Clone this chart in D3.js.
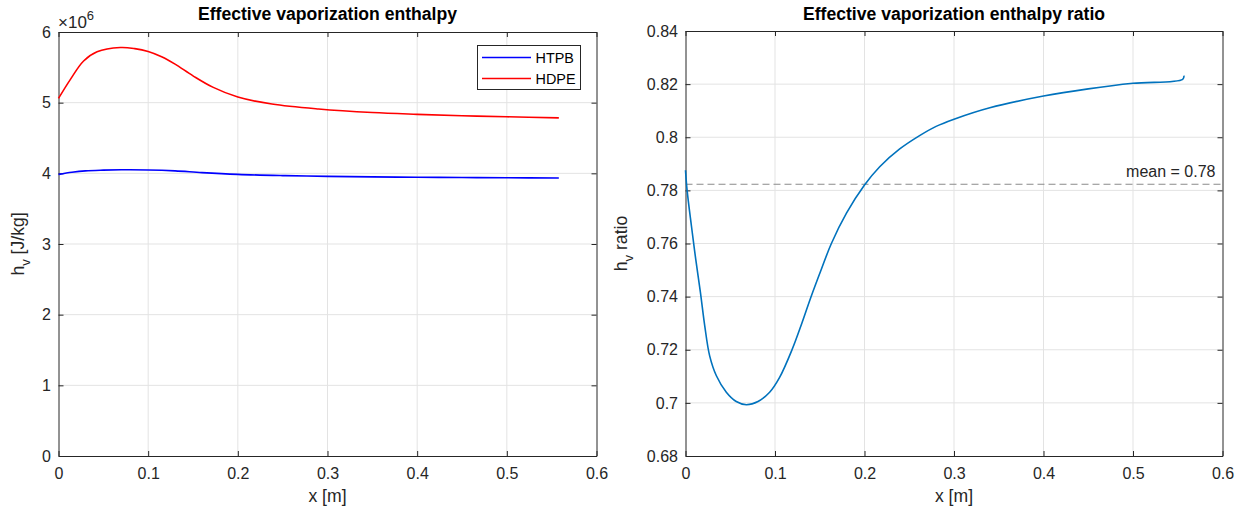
<!DOCTYPE html>
<html>
<head>
<meta charset="utf-8">
<script src="https://cdn.jsdelivr.net/npm/d3@7"></script>
<style>
  body { margin: 0; background: #fff; }
  svg { display: block; font-family: "Liberation Sans", Arial, Helvetica, sans-serif; }
</style>
</head>
<body>
<svg id="chart" width="1244" height="513"></svg>
<script>
// ---------- data ----------
const xTicks = [0, 0.1, 0.2, 0.3, 0.4, 0.5, 0.6];
const xTickLabels = ["0", "0.1", "0.2", "0.3", "0.4", "0.5", "0.6"];
const leftYTicks = [0, 1, 2, 3, 4, 5, 6];
const rightYTicks = [0.68, 0.7, 0.72, 0.74, 0.76, 0.78, 0.8, 0.82, 0.84];
const rightYTickLabels = ["0.68", "0.7", "0.72", "0.74", "0.76", "0.78", "0.8", "0.82", "0.84"];

// left plot (values in units of 1e6 J/kg)
const htpbX = [0, 0.015, 0.03, 0.05, 0.07, 0.1, 0.13, 0.16, 0.2, 0.25, 0.3, 0.35, 0.4, 0.45, 0.5, 0.558];
const htpbY = [3.985, 4.015, 4.035, 4.045, 4.05, 4.048, 4.035, 4.01, 3.985, 3.968, 3.957, 3.95, 3.945, 3.941, 3.937, 3.933];
const hdpeX = [0, 0.0133, 0.028, 0.043, 0.069, 0.085, 0.1, 0.115, 0.13, 0.15, 0.172, 0.2, 0.238, 0.29, 0.35, 0.4, 0.45, 0.5, 0.558];
const hdpeY = [5.06, 5.33, 5.59, 5.72, 5.78, 5.765, 5.725, 5.65, 5.545, 5.38, 5.22, 5.08, 4.98, 4.91, 4.86, 4.835, 4.815, 4.80, 4.785];

// right plot ratio
const ratioX = [0, 0.0018, 0.0067, 0.0115, 0.0167, 0.0215, 0.027, 0.0345, 0.0456, 0.0567, 0.068, 0.081, 0.094, 0.105, 0.119, 0.13, 0.14, 0.152, 0.163, 0.18, 0.2, 0.217, 0.239, 0.262, 0.28, 0.3, 0.34, 0.4, 0.45, 0.5, 0.5555, 0.557];
const ratioY = [0.7876, 0.780, 0.7664, 0.7539, 0.7415, 0.729, 0.7177, 0.7102, 0.704, 0.7005, 0.6993, 0.7005, 0.704, 0.7095, 0.72, 0.73, 0.7397, 0.7505, 0.76, 0.7715, 0.782, 0.7889, 0.7955, 0.8007, 0.8041, 0.8068, 0.8111, 0.8155, 0.8182, 0.8203, 0.8218, 0.8232];
const ratioMean = 0.7823;
const meanLabel = "mean = 0.78";

// ---------- layout ----------
const svg = d3.select("#chart");
const axisColor = "#262626";
const gridColor = "#e3e3e3";
const tickLen = 5;
const tickFont = "16px";
const labelFont = "17.6px";

function drawPanel(opts) {
  const {left, right, top, bottom, yDomain, yTicks, yTickFmt, title, ylabelMain, ylabelRest, ylabelX} = opts;
  const x = d3.scaleLinear().domain([0, 0.6]).range([left, right]);
  const y = d3.scaleLinear().domain(yDomain).range([bottom, top]);
  const g = svg.append("g");

  // grid
  g.append("g").selectAll("line").data(xTicks.slice(1, -1)).join("line")
    .attr("x1", d => x(d)).attr("x2", d => x(d)).attr("y1", top).attr("y2", bottom)
    .attr("stroke", gridColor).attr("stroke-width", 1);
  g.append("g").selectAll("line").data(yTicks.slice(1, -1)).join("line")
    .attr("y1", d => y(d)).attr("y2", d => y(d)).attr("x1", left).attr("x2", right)
    .attr("stroke", gridColor).attr("stroke-width", 1);

  // axes (ticks inward)
  const xb = d3.axisBottom(x).tickValues(xTicks).tickFormat((d, i) => xTickLabels[i]).tickSizeInner(-tickLen).tickSizeOuter(0).tickPadding(12);
  const xt = d3.axisTop(x).tickValues(xTicks).tickFormat("").tickSizeInner(-tickLen).tickSizeOuter(0);
  const yl = d3.axisLeft(y).tickValues(yTicks).tickFormat(yTickFmt).tickSizeInner(-tickLen).tickSizeOuter(0).tickPadding(7.5);
  const yr = d3.axisRight(y).tickValues(yTicks).tickFormat("").tickSizeInner(-tickLen).tickSizeOuter(0);

  const style = sel => {
    sel.selectAll("path").attr("stroke", axisColor).attr("stroke-width", 1);
    sel.selectAll("line").attr("stroke", axisColor).attr("stroke-width", 1);
    sel.selectAll("text").attr("fill", axisColor).attr("font-size", tickFont)
      .attr("font-family", "'Liberation Sans', Arial, sans-serif");
  };
  g.append("g").attr("transform", `translate(0,${bottom})`).call(xb).call(style);
  g.append("g").attr("transform", `translate(0,${top})`).call(xt).call(style);
  g.append("g").attr("transform", `translate(${left},0)`).call(yl).call(style);
  g.append("g").attr("transform", `translate(${right},0)`).call(yr).call(style);

  // title
  g.append("text").attr("x", (left + right) / 2).attr("y", 20)
    .attr("text-anchor", "middle").attr("font-weight", "bold").attr("font-size", labelFont)
    .attr("fill", "#000").text(title);

  // x label
  g.append("text").attr("x", (left + right) / 2).attr("y", 502)
    .attr("text-anchor", "middle").attr("font-size", labelFont).attr("fill", axisColor).text("x [m]");

  // y label
  const yt = g.append("text")
    .attr("transform", `translate(${ylabelX},${(top + bottom) / 2}) rotate(-90)`)
    .attr("text-anchor", "middle").attr("font-size", labelFont).attr("fill", axisColor);
  yt.append("tspan").text(ylabelMain);
  yt.append("tspan").attr("font-size", "13px").attr("dy", 6).text("v");
  yt.append("tspan").attr("dy", -6).text(ylabelRest);

  return {x, y, g};
}

// ---------- left panel ----------
const L = drawPanel({
  left: 58.5, right: 596.5, top: 32, bottom: 456,
  yDomain: [0, 6], yTicks: leftYTicks, yTickFmt: d => String(d),
  title: "Effective vaporization enthalpy",
  ylabelMain: "h", ylabelRest: " [J/kg]", ylabelX: 24
});

// exponent label
const ex = svg.append("text").attr("x", 58).attr("y", 28).attr("font-size", "17px").attr("fill", axisColor);
ex.append("tspan").text("\u00d710");
ex.append("tspan").attr("font-size", "13px").attr("dy", -8).text("6");

const lineL = d3.line().x(d => L.x(d[0])).y(d => L.y(d[1])).curve(d3.curveCatmullRom.alpha(0.5));
L.g.append("path").datum(htpbX.map((v, i) => [v, htpbY[i]]))
  .attr("d", lineL).attr("fill", "none").attr("stroke", "#0000ff").attr("stroke-width", 1.6);
L.g.append("path").datum(hdpeX.map((v, i) => [v, hdpeY[i]]))
  .attr("d", lineL).attr("fill", "none").attr("stroke", "#ff0000").attr("stroke-width", 1.6);

// legend
const leg = L.g.append("g");
leg.append("rect").attr("x", 477.5).attr("y", 45.5).attr("width", 103).attr("height", 44)
  .attr("fill", "#fff").attr("stroke", axisColor).attr("stroke-width", 1);
const legItems = [["HTPB", "#0000ff"], ["HDPE", "#ff0000"]];
legItems.forEach((it, i) => {
  const yy = 57.5 + i * 21;
  leg.append("line").attr("x1", 482).attr("x2", 531).attr("y1", yy).attr("y2", yy)
    .attr("stroke", it[1]).attr("stroke-width", 1.6);
  leg.append("text").attr("x", 535.5).attr("y", yy + 5.2).attr("font-size", "14.4px")
    .attr("fill", "#000").text(it[0]);
});

// ---------- right panel ----------
const R = drawPanel({
  left: 685.5, right: 1222.5, top: 31, bottom: 456,
  yDomain: [0.68, 0.84], yTicks: rightYTicks, yTickFmt: (d, i) => rightYTickLabels[i],
  title: "Effective vaporization enthalpy ratio",
  ylabelMain: "h", ylabelRest: " ratio", ylabelX: 627
});

// mean line
R.g.append("line").attr("x1", R.x(0)).attr("x2", R.x(0.6)).attr("y1", R.y(ratioMean)).attr("y2", R.y(ratioMean))
  .attr("stroke", "#8a8a8a").attr("stroke-width", 1.2).attr("stroke-dasharray", "7,4");
R.g.append("text").attr("x", R.x(0.6) - 7).attr("y", R.y(ratioMean) - 7).attr("text-anchor", "end")
  .attr("font-size", tickFont).attr("fill", axisColor).text(meanLabel);

const lineR = d3.line().x(d => R.x(d[0])).y(d => R.y(d[1])).curve(d3.curveCatmullRom.alpha(0.5));
R.g.append("path").datum(ratioX.map((v, i) => [v, ratioY[i]]))
  .attr("d", lineR).attr("fill", "none").attr("stroke", "#0072bd").attr("stroke-width", 1.6);
</script>
</body>
</html>
